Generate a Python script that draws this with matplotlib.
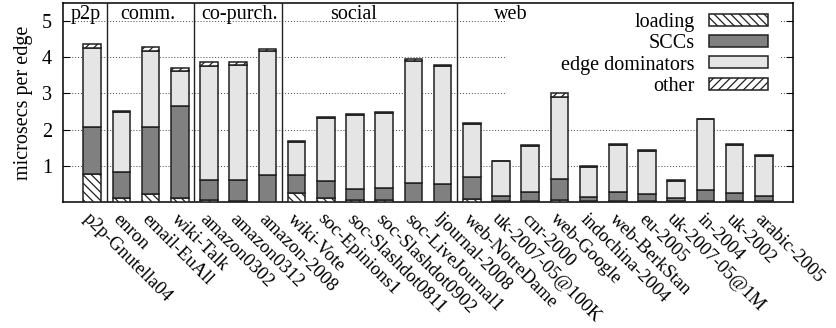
import matplotlib
matplotlib.use("Agg")
import matplotlib.pyplot as plt
from matplotlib.patches import Patch, Rectangle
import numpy as np

plt.rcParams['font.family'] = ['Liberation Serif', 'DejaVu Serif']
plt.rcParams['hatch.linewidth'] = 0.9

graphs = ["p2p-Gnutella04", "enron", "email-EuAll", "wiki-Talk", "amazon0302",
          "amazon0312", "amazon-2008", "wiki-Vote", "soc-Epinions1",
          "soc-Slashdot0811", "soc-Slashdot0902", "soc-LiveJournal1",
          "ljournal-2008", "web-NotreDame", "uk-2007-05@100K", "cnr-2000",
          "web-Google", "indochina-2004", "web-BerkStan", "eu-2005",
          "uk-2007-05@1M", "in-2004", "uk-2002", "arabic-2005"]

# microseconds per edge spent in each phase
loading = [0.78, 0.10, 0.22, 0.10, 0.05, 0.03, 0.01, 0.25, 0.10, 0.05, 0.05, 0.01,
           0.01, 0.08, 0.02, 0.02, 0.06, 0.02, 0.02, 0.02, 0.02, 0.02, 0.02, 0.02]
sccs = [1.29, 0.74, 1.84, 2.55, 0.55, 0.57, 0.73, 0.49, 0.47, 0.31, 0.33, 0.51,
        0.48, 0.60, 0.15, 0.26, 0.58, 0.13, 0.27, 0.19, 0.08, 0.31, 0.23, 0.15]
edge_dominators = [2.19, 1.64, 2.12, 0.96, 3.15, 3.20, 3.44, 0.91, 1.74, 2.04, 2.07, 3.39,
                   3.26, 1.47, 0.95, 1.27, 2.25, 0.81, 1.28, 1.20, 0.48, 1.96, 1.32, 1.11]
other = [0.12, 0.04, 0.10, 0.09, 0.11, 0.06, 0.04, 0.04, 0.04, 0.03, 0.03, 0.04,
         0.03, 0.03, 0.01, 0.03, 0.13, 0.03, 0.03, 0.02, 0.03, 0.01, 0.02, 0.01]

group_names = ["p2p", "comm.", "co-purch.", "social", "web"]
group_sizes = [1, 3, 3, 6, 11]
group_label_x = [-0.22, 1.9, 5.05, 8.96, 14.33]

yticks = [1, 2, 3, 4, 5]

fig = plt.figure(figsize=(8.37, 3.28), dpi=100)
ax = fig.add_axes([0.0753, 0.3841, 0.9474 - 0.0753, 0.9909 - 0.3841])

x = np.arange(len(graphs))
width = 0.6
ec = '#202020'
lw = 1.1

series = [
    ("loading", loading, 'white', '\\\\\\\\'),
    ("SCCs", sccs, '#808080', None),
    ("edge dominators", edge_dominators, '#e5e5e5', None),
    ("other", other, 'white', '////'),
]

bottom = np.zeros(len(graphs))
handles = []
for label, vals, fc, hatch in series:
    vals = np.asarray(vals)
    ax.bar(x, vals, width, bottom=bottom, color=fc, edgecolor=ec,
           linewidth=lw, hatch=hatch, zorder=3)
    bottom += vals
    handles.append(Patch(facecolor=fc, edgecolor=ec, linewidth=lw, hatch=hatch, label=label))

ax.set_xlim(-1, 24)
ax.set_ylim(0, 5.5)
ax.set_yticks(yticks)
ax.set_yticklabels([str(t) for t in yticks], fontsize=14.5)
ax.tick_params(axis='y', direction='in', length=5, right=True, pad=8)
ax.set_xticks(x)
ax.set_xticklabels(graphs, rotation=-45, ha='left', va='top',
                   rotation_mode='anchor', fontsize=13.5)
ax.tick_params(axis='x', length=0, pad=6)
ax.set_ylabel("microsecs per edge", fontsize=14.5, labelpad=6)

ax.set_axisbelow(True)
ax.yaxis.grid(True, linestyle=(0, (1, 2)), color='#444444', linewidth=0.7)

# blank area behind the key
ax.add_patch(Rectangle((14.2, 2.75), 9.34, 3.0, facecolor='white',
                       edgecolor='none', zorder=1))

# group separators and titles
pos = -0.5
for i, n in enumerate(group_sizes[:-1]):
    pos += n
    ax.axvline(pos, color='#222222', linewidth=1.0, zorder=4)
for name, gx in zip(group_names, group_label_x):
    ax.text(gx, 5.19, name, ha='center', va='center', fontsize=14.5, zorder=5)

for s in ax.spines.values():
    s.set_linewidth(1.1)

leg = ax.legend(handles=handles, loc='upper right', bbox_to_anchor=(0.988, 1.03),
                frameon=False, markerfirst=False, fontsize=14.5,
                handlelength=2.95, handleheight=0.55, labelspacing=0.11,
                handletextpad=0.7, borderpad=0.3)

fig.savefig("out.png", dpi=100)
